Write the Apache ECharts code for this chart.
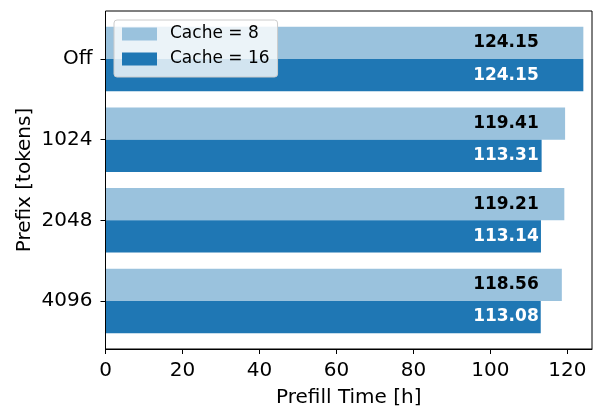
<!DOCTYPE html>
<html><head><meta charset="utf-8">
<script src="https://cdn.jsdelivr.net/npm/echarts@6/dist/echarts.min.js"></script>
<style>html,body{margin:0;padding:0;background:#fff}#c{width:593px;height:408px}</style>
</head><body><div id="c"></div>
<script>
const categories = ['Off', '1024', '2048', '4096'];
const cache8 = [124.15, 119.41, 119.21, 118.56];
const cache16 = [124.15, 113.31, 113.14, 113.08];
const xTicks = [0, 20, 40, 60, 80, 100, 120];
const seriesNames = ['Cache = 8', 'Cache = 16'];
const xMax = 126.4;

const FONT = 'DejaVu Sans';
const light = '#9ac2dd', dark = '#1f77b4';
const labelAnchor = Math.min(...cache8, ...cache16);

const chart = echarts.init(document.getElementById('c'), null, {renderer: 'canvas'});
const frame = {left: 105.5, right: 1, top: 11, bottom: 59};
const pad = 7.7;

chart.setOption({
  animation: false,
  textStyle: {fontFamily: FONT},
  grid: [
    {left: frame.left, right: frame.right, top: frame.top, bottom: frame.bottom, show: true,
     outerBoundsMode: 'none', containLabel: false,
     borderColor: '#000', borderWidth: 1, backgroundColor: 'transparent', z: 10},
    {left: frame.left, right: frame.right, top: frame.top + pad, bottom: frame.bottom + pad,
     outerBoundsMode: 'none', containLabel: false}
  ],
  legend: {
    data: seriesNames, orient: 'vertical', left: 114, top: 20,
    icon: 'rect', itemWidth: 35, itemHeight: 13, itemGap: 5,
    padding: [4, 8, 8, 8],
    backgroundColor: 'rgba(255,255,255,0.8)', borderColor: '#cccccc', borderWidth: 1, borderRadius: 3,
    textStyle: {fontFamily: FONT, fontSize: 17, color: '#000', lineHeight: 20, padding: [0, 0, 0, 8]},
    z: 20
  },
  xAxis: [
    {gridIndex: 0, type: 'value', min: 0, max: xMax,
     axisLine: {show: true, lineStyle: {color: '#000', width: 1}},
     axisTick: {show: true, length: 5, lineStyle: {color: '#000'}, customValues: xTicks},
     axisLabel: {fontFamily: FONT, fontSize: 20, color: '#000', margin: 12, customValues: xTicks},
     splitLine: {show: false},
     name: 'Prefill Time [h]', nameLocation: 'middle', nameGap: 39, nameMoveOverlap: false,
     nameTextStyle: {fontFamily: FONT, fontSize: 20, color: '#000'}},
    {gridIndex: 1, type: 'value', min: 0, max: xMax, show: false, splitLine: {show: false}}
  ],
  yAxis: [
    {gridIndex: 0, type: 'value', min: 0, max: 1, show: false, splitLine: {show: false}},
    {gridIndex: 1, type: 'category', data: categories, inverse: true,
     axisLine: {show: false},
     axisTick: {show: true, alignWithLabel: true, length: 5, lineStyle: {color: '#000'}},
     axisLabel: {fontFamily: FONT, fontSize: 20, color: '#000', margin: 13, padding: [4, 0, 0, 0]},
     name: 'Prefix [tokens]', nameLocation: 'middle', nameGap: 71, nameMoveOverlap: false,
     nameTextStyle: {fontFamily: FONT, fontSize: 20, color: '#000'}}
  ],
  series: [
    {name: seriesNames[0], type: 'bar', xAxisIndex: 1, yAxisIndex: 1, data: cache8,
     barWidth: '40%', barGap: '0%', itemStyle: {color: light}},
    {name: seriesNames[1], type: 'bar', xAxisIndex: 1, yAxisIndex: 1, data: cache16,
     barWidth: '40%', barGap: '0%', itemStyle: {color: dark}},
    {type: 'scatter', xAxisIndex: 1, yAxisIndex: 1, symbolSize: 0, silent: true, z: 5,
     itemStyle: {opacity: 1},
     data: cache8.map((v, i) => [labelAnchor, categories[i]]),
     label: {show: true, position: 'left', distance: 2, offset: [0, -16.1], opacity: 1,
       formatter: p => cache8[p.dataIndex].toFixed(2),
       fontFamily: FONT, fontWeight: 'bold', fontSize: 17, color: '#000'}},
    {type: 'scatter', xAxisIndex: 1, yAxisIndex: 1, symbolSize: 0, silent: true, z: 5,
     itemStyle: {opacity: 1},
     data: cache16.map((v, i) => [labelAnchor, categories[i]]),
     label: {show: true, position: 'left', distance: 2, offset: [0, 16.1], opacity: 1,
       formatter: p => cache16[p.dataIndex].toFixed(2),
       fontFamily: FONT, fontWeight: 'bold', fontSize: 17, color: '#fff'}}
  ]
});
</script></body></html>
